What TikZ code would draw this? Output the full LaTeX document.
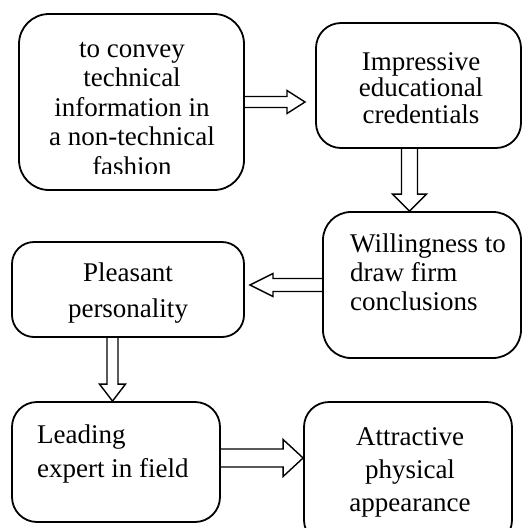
\documentclass[tikz,border=0pt]{standalone}
\usepackage{fontspec}
\setmainfont{Liberation Serif}
\usetikzlibrary{calc}
\tikzset{
  box/.style={draw=black, line width=1.8pt, rounded corners=#1, inner sep=0pt},
  box/.default=25pt,
  txt/.style={inner sep=0pt, font=\fontsize{27}{#1}\selectfont},
  arrowline/.style={draw=black, line width=1.4pt, line join=miter}
}
\newcommand\harrow[5]{%
  \draw[arrowline] let \p1=(#1),\p2=(#2),\n1={ifthenelse(\x2>\x1,1,-1)} in
    (\x1,\y1+#3) -- (\x2-\n1*#5,\y1+#3) -- (\x2-\n1*#5,\y1+#4) -- (\x2,\y1)
    -- (\x2-\n1*#5,\y1-#4) -- (\x2-\n1*#5,\y1-#3) -- (\x1,\y1-#3);}
\newcommand\varrow[5]{%
  \draw[arrowline] let \p1=(#1),\p2=(#2),\n1={ifthenelse(\y2>\y1,1,-1)} in
    (\x1+#3,\y1) -- (\x1+#3,\y2-\n1*#5) -- (\x1+#4,\y2-\n1*#5) -- (\x1,\y2)
    -- (\x1-#4,\y2-\n1*#5) -- (\x1-#3,\y2-\n1*#5) -- (\x1-#3,\y1);}
\begin{document}
\begin{tikzpicture}[x=1pt,y=-1pt]
\useasboundingbox (0,0) rectangle (522,528);
% boxes
\node[box=30pt, minimum width=225pt, minimum height=176pt] (b1) at (131.5,102) {};
\node[box=25pt, minimum width=205pt, minimum height=125pt] (b2) at (418.5,85.5) {};
\node[box=28pt, minimum width=198pt, minimum height=146pt] (b3) at (422,285) {};
\node[box=22pt, minimum width=232pt, minimum height=95pt] (b4) at (128,289.5) {};
\node[box=25pt, minimum width=208pt, minimum height=120pt] (b5) at (116,462) {};
\node[box=25pt, minimum width=208pt, minimum height=143pt] (b6) at (408,473.5) {};
% texts
\begin{scope}
  \clip (19,14) rectangle (244,173);
  \node[txt=29.5, align=center, anchor=north] (t1) at (132,42)
    {to convey\\technical\\information in\\a non-technical\\fashion};
\end{scope}
\node[txt=26.5, align=center, anchor=north] (t2) at (421,52)
  {Impressive\\educational\\credentials};
\node[txt=29, align=left, anchor=north west] (t3) at (350,234)
  {Willingness to\\draw firm\\conclusions};
\node[txt=36, align=center, anchor=north] (t4) at (128,263)
  {Pleasant\\personality};
\node[txt=34, align=left, anchor=north west] (t5) at (37,425)
  {Leading\\expert in field};
\node[txt=33, align=center, anchor=north] (t6) at (410,427)
  {Attractive\\physical\\appearance};
% connector end points
\coordinate (a1e) at (305,102);
\coordinate (a2s) at ([xshift=-9pt]b2.south);
\coordinate (a2e) at (a2s |- b3.north);
\coordinate (a3e) at (250,285);
\coordinate (a4s) at ([xshift=-15.5pt]b4.south);
\coordinate (a4e) at (a4s |- b5.north);
\coordinate (a5s) at ([yshift=4pt]b5.east);
\coordinate (a5e) at (a5s -| b6.west);
% arrows
\harrow{b1.east}{a1e}{5.5pt}{11.5pt}{18pt}
\varrow{a2s}{a2e}{8pt}{17pt}{17pt}
\harrow{b3.west}{a3e}{6.5pt}{11.5pt}{23pt}
\varrow{a4s}{a4e}{5.5pt}{13pt}{17pt}
\harrow{a5s}{a5e}{9pt}{18.5pt}{20pt}
\end{tikzpicture}
\end{document}
